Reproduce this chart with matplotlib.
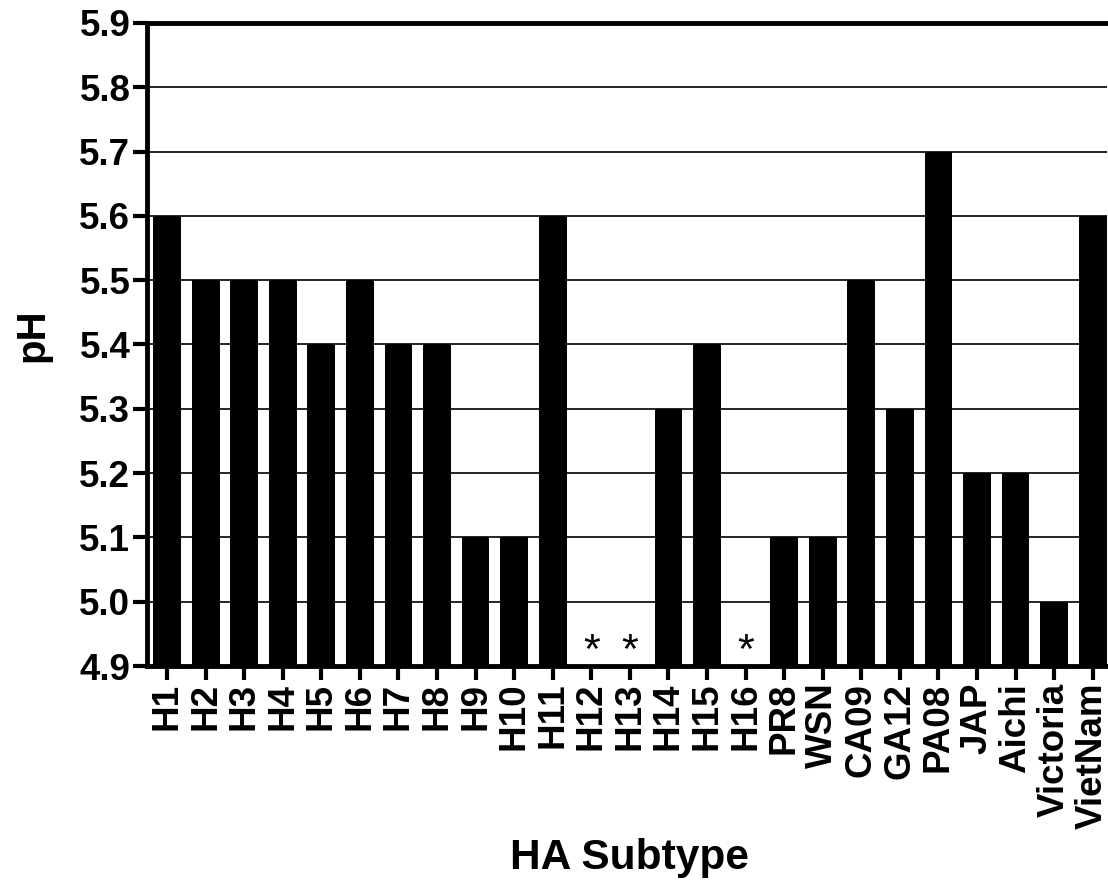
import numpy as np
import matplotlib.pyplot as plt

plt.rcParams['font.family'] = ['Liberation Sans', 'DejaVu Sans']

subtypes = ['H1', 'H2', 'H3', 'H4', 'H5', 'H6', 'H7', 'H8', 'H9', 'H10', 'H11',
            'H12', 'H13', 'H14', 'H15', 'H16', 'PR8', 'WSN', 'CA09', 'GA12',
            'PA08', 'JAP', 'Aichi', 'Victoria', 'VietNam']
ph = [5.6, 5.5, 5.5, 5.5, 5.4, 5.5, 5.4, 5.4, 5.1, 5.1, 5.6,
      np.nan, np.nan, 5.3, 5.4, np.nan, 5.1, 5.1, 5.5, 5.3,
      5.7, 5.2, 5.2, 5.0, 5.6]
ymin, ymax = 4.9, 5.9

fig = plt.figure(figsize=(11.08, 8.81), dpi=100)
ax = fig.add_axes([0.1327, 0.244, 0.866, 0.730])

x = np.arange(len(subtypes))
vals = np.array(ph)
ax.bar(x, np.nan_to_num(vals, nan=ymin) - ymin, bottom=ymin, width=0.72,
       color='black', zorder=3)

# missing values marked with an asterisk
for xi, v in zip(x, vals):
    if np.isnan(v):
        ax.text(xi, 4.922, '*', ha='center', va='center', fontsize=31,
                zorder=4)

ax.set_ylim(ymin, ymax)
ax.set_xlim(-0.52, 24.36)
yt = np.round(np.arange(ymin, ymax + 0.01, 0.1), 1)
ax.set_yticks(yt)
ax.set_yticklabels(['%.1f' % t for t in yt])
ax.yaxis.grid(True, color='black', linewidth=1.2)
ax.set_axisbelow(True)

ax.set_xticks(x)
ax.set_xticklabels(subtypes, rotation=90)
for lab in ax.get_xticklabels():
    lab.set_fontweight('bold')
    lab.set_fontsize(26.5)
for lab in ax.get_yticklabels():
    lab.set_fontweight('bold')
    lab.set_fontsize(26.5)

ax.tick_params(axis='both', direction='out', length=10, width=3, pad=2)
ax.spines['right'].set_visible(False)
for s in ['left', 'bottom', 'top']:
    ax.spines[s].set_linewidth(3.5)

# axis titles at fixed spots
fig.text(32 / 1108, 1 - 335 / 881, 'pH', rotation=90, ha='center', va='center',
         fontsize=29, fontweight='bold')
fig.text(630 / 1108, 1 - 869 / 881, 'HA Subtype', ha='center', va='baseline',
         fontsize=30.5, fontweight='bold')

plt.savefig('out.png', dpi=100)
